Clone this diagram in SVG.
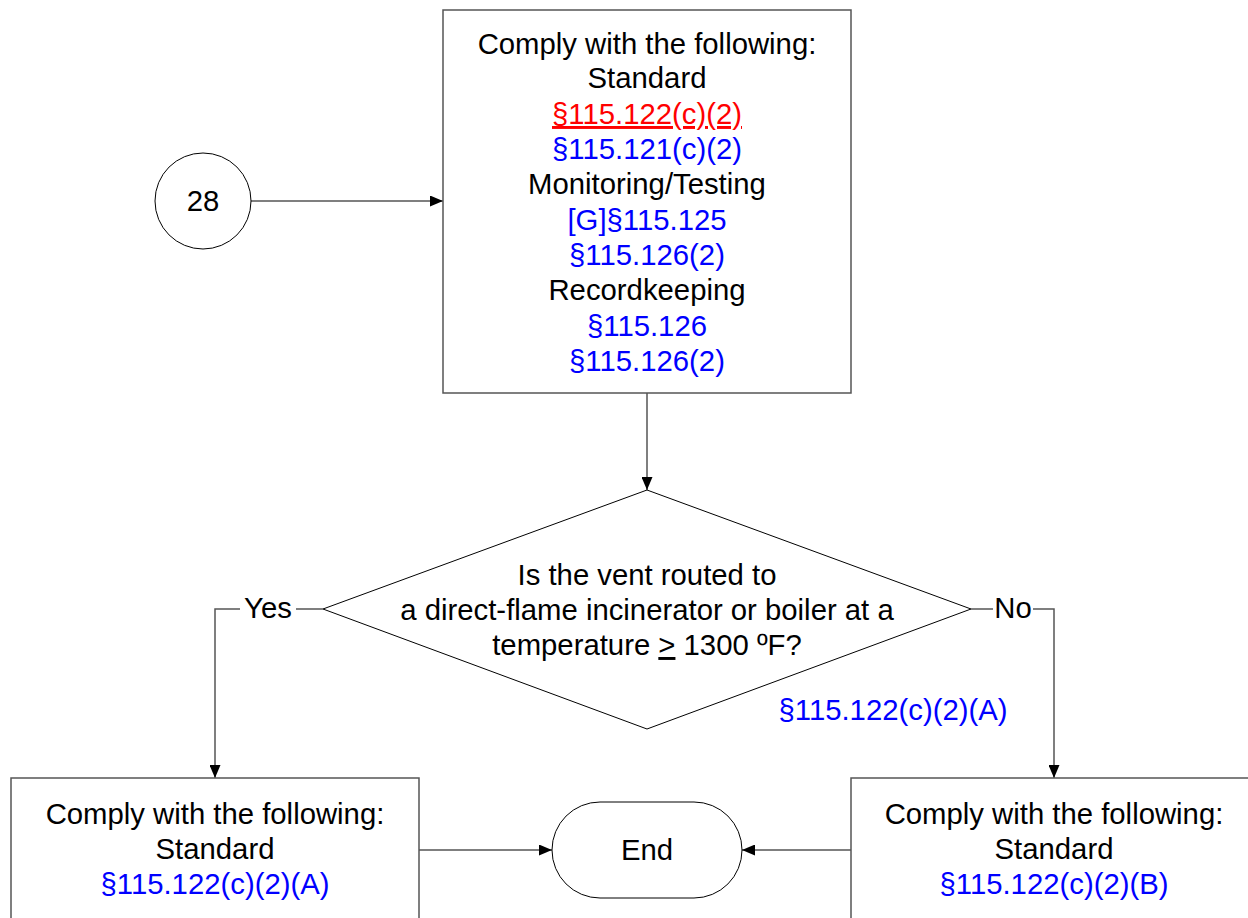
<svg xmlns="http://www.w3.org/2000/svg" width="1248" height="918" viewBox="0 0 1248 918">
<defs>
<marker id="arr" viewBox="0 0 13 11" refX="13" refY="5.5" markerWidth="13" markerHeight="11" markerUnits="userSpaceOnUse" orient="auto">
<path d="M0,0 L13,5.5 L0,11 Z" fill="#000"/>
</marker>
</defs>
<style>
text{font-family:"Liberation Sans",Arial,sans-serif;font-size:29.3px;text-anchor:middle;fill:#000}
.b{fill:#0000FF}
.r{fill:#FF0000;text-decoration:underline}
.box{fill:#fff;stroke:#555;stroke-width:1.5}
.shape{fill:#fff;stroke:#000;stroke-width:1}
.c{fill:none;stroke:#555;stroke-width:1.5}
</style>
<rect width="1248" height="918" fill="#fff"/>
<g id="connectors">
<path class="c" d="M251,201 H443" marker-end="url(#arr)"/>
<path class="c" d="M647,393 V490" marker-end="url(#arr)"/>
<path class="c" d="M323,609 H296 M240,609 H215 V778" marker-end="url(#arr)"/>
<path class="c" d="M971,609 H993 M1033,609 H1054 V778" marker-end="url(#arr)"/>
<path class="c" d="M419,850 H552" marker-end="url(#arr)"/>
<path class="c" d="M851,850 H742" marker-end="url(#arr)"/>
<text x="268" y="618">Yes</text>
<text x="1013" y="618">No</text>
</g>
<g id="n28">
<circle class="shape" cx="203" cy="201" r="48"/>
<text x="203" y="211">28</text>
</g>
<g id="top">
<rect class="box" x="443" y="10" width="408" height="383"/>
<text x="647" y="54">Comply with the following:</text>
<text x="647" y="88">Standard</text>
<text x="647" y="124" class="r">§115.122(c)(2)</text>
<text x="647" y="159" class="b">§115.121(c)(2)</text>
<text x="647" y="194">Monitoring/Testing</text>
<text x="647" y="230" class="b">[G]§115.125</text>
<text x="647" y="265" class="b">§115.126(2)</text>
<text x="647" y="300">Recordkeeping</text>
<text x="647" y="336" class="b">§115.126</text>
<text x="647" y="371" class="b">§115.126(2)</text>
</g>
<g id="decision">
<path class="shape" d="M647,490 L971,609 L647,729 L323,609 Z"/>
<text x="647" y="585">Is the vent routed to</text>
<text x="647" y="620">a direct-flame incinerator or boiler at a</text>
<text x="647" y="655">temperature <tspan text-decoration="underline">&gt;</tspan> 1300 ºF?</text>
<text x="893" y="720" class="b">§115.122(c)(2)(A)</text>
</g>
<g id="yesbox">
<rect class="box" x="11" y="778" width="408" height="160"/>
<text x="215" y="824">Comply with the following:</text>
<text x="215" y="859">Standard</text>
<text x="215" y="894" class="b">§115.122(c)(2)(A)</text>
</g>
<g id="nobox">
<rect class="box" x="851" y="778" width="408" height="160"/>
<text x="1054" y="824">Comply with the following:</text>
<text x="1054" y="859">Standard</text>
<text x="1054" y="894" class="b">§115.122(c)(2)(B)</text>
</g>
<g id="end">
<rect class="shape" x="552" y="802" width="190" height="96" rx="48" ry="48"/>
<text x="647" y="860">End</text>
</g>
</svg>
